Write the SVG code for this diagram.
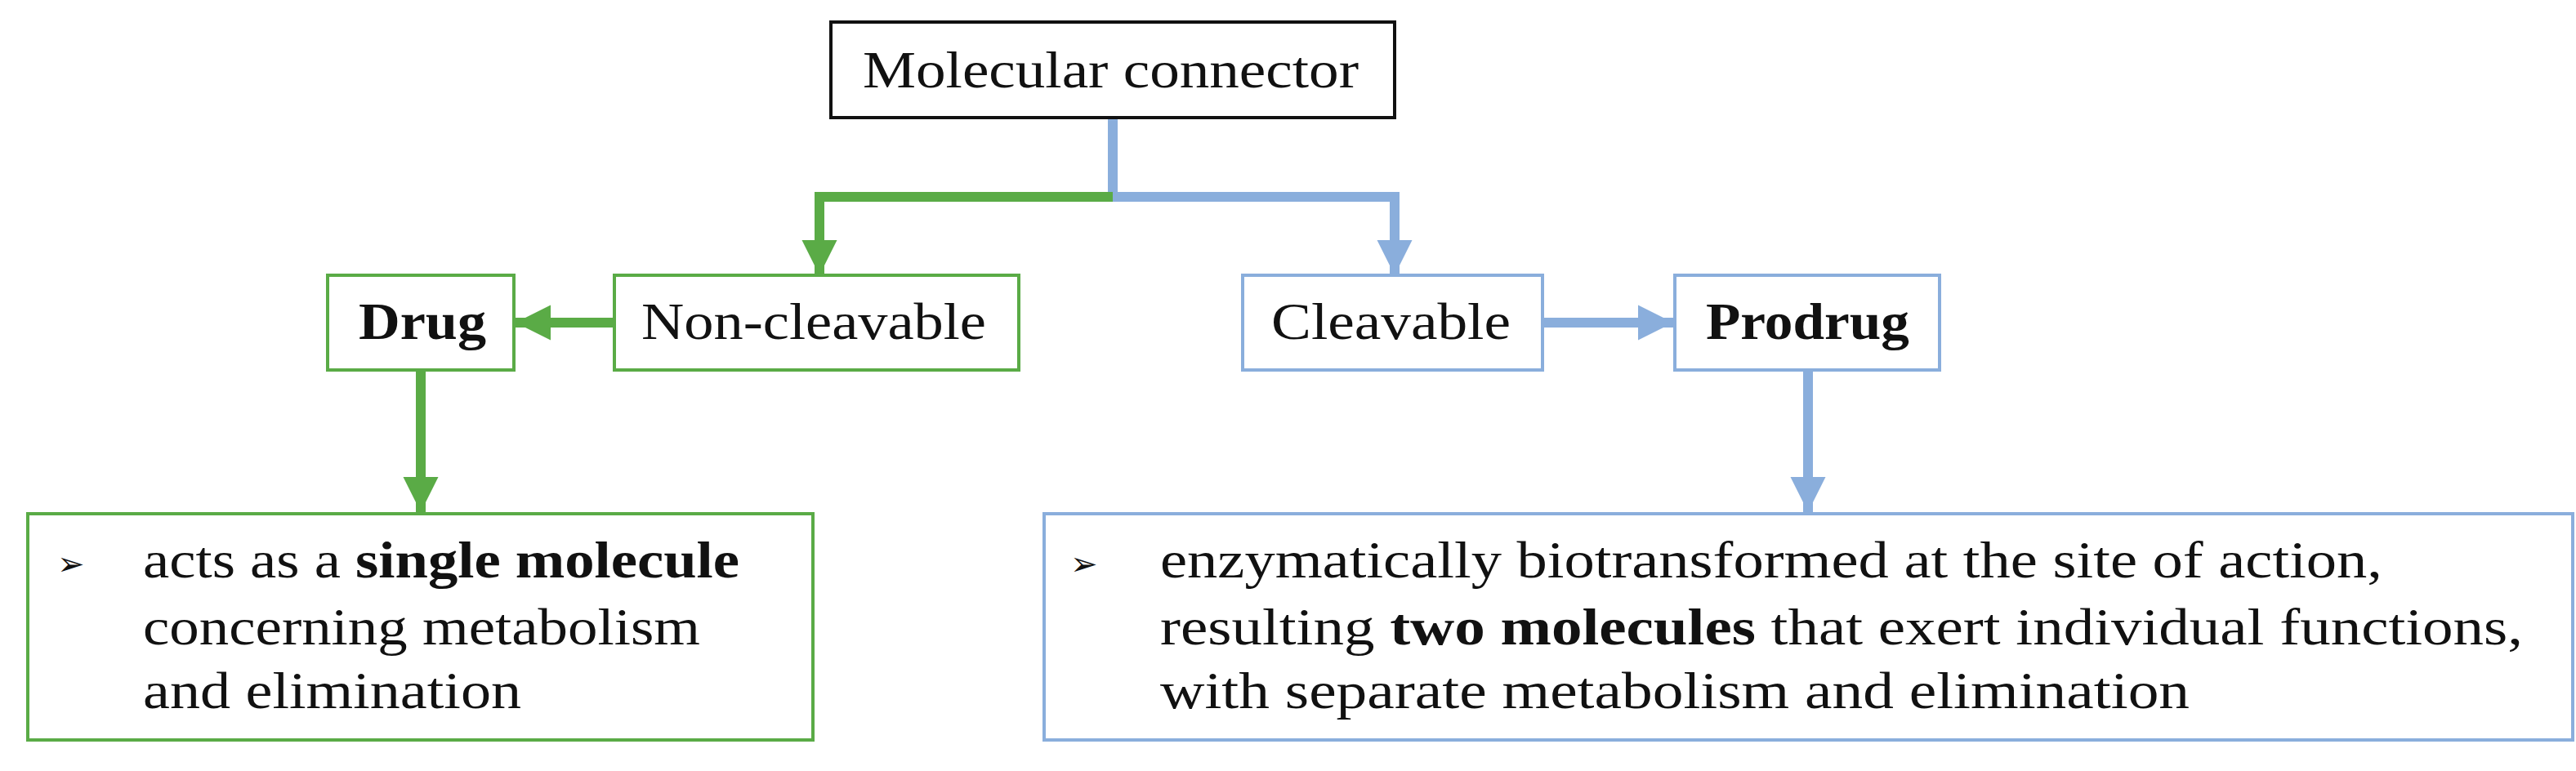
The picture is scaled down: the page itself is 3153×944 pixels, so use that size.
<svg xmlns="http://www.w3.org/2000/svg" width="3153" height="944" viewBox="0 0 3153 944">
<defs>
<style>
.t{font-family:"Liberation Serif",serif;font-size:64px;fill:#111}
.b{font-weight:bold}
.g{fill:#fff;stroke:#5aab46;stroke-width:4}
.bl{fill:#fff;stroke:#8aaedc;stroke-width:4}
.cg{fill:none;stroke:#5aab46;stroke-width:12}
.cb{fill:none;stroke:#8aaedc;stroke-width:12}
.bul{font-family:"DejaVu Sans",sans-serif;font-size:40px;fill:#111}
</style>
<marker id="ag" viewBox="0 0 10 10" refX="10" refY="5" markerWidth="3.6" markerHeight="3.6" markerUnits="strokeWidth" orient="auto"><path d="M0,0L10,5L0,10z" fill="#5aab46"/></marker>
<marker id="ab" viewBox="0 0 10 10" refX="10" refY="5" markerWidth="3.6" markerHeight="3.6" markerUnits="strokeWidth" orient="auto"><path d="M0,0L10,5L0,10z" fill="#8aaedc"/></marker>
</defs>
<rect width="3153" height="944" fill="#fff"/>
<g id="connectors">
<path class="cb" d="M1362,144V241H1707V337" marker-end="url(#ab)"/>
<path class="cg" d="M1362,241H1003V337" marker-end="url(#ag)"/>
<path class="cg" d="M752,395H631" marker-end="url(#ag)"/>
<path class="cg" d="M515,453V627" marker-end="url(#ag)"/>
<path class="cb" d="M1888,395H2048" marker-end="url(#ab)"/>
<path class="cb" d="M2213,453V627" marker-end="url(#ab)"/>
</g>
<g id="top"><rect x="1017" y="27" width="690" height="117" fill="#fff" stroke="#111" stroke-width="4"/><text class="t" x="1056" y="107" textLength="607" lengthAdjust="spacingAndGlyphs">Molecular connector</text></g>
<g id="drug"><rect class="g" x="401" y="337" width="228" height="116"/><text class="t b" x="439" y="415" textLength="156" lengthAdjust="spacingAndGlyphs">Drug</text></g>
<g id="noncleavable"><rect class="g" x="752" y="337" width="495" height="116"/><text class="t" x="785" y="415" textLength="422" lengthAdjust="spacingAndGlyphs">Non-cleavable</text></g>
<g id="cleavable"><rect class="bl" x="1521" y="337" width="367" height="116"/><text class="t" x="1556" y="415" textLength="293" lengthAdjust="spacingAndGlyphs">Cleavable</text></g>
<g id="prodrug"><rect class="bl" x="2050" y="337" width="324" height="116"/><text class="t b" x="2088" y="415" textLength="249" lengthAdjust="spacingAndGlyphs">Prodrug</text></g>
<g id="descleft"><rect class="g" x="34" y="629" width="961" height="277"/>
<text class="bul" x="70" y="704">➢</text>
<text class="t" x="175" y="707" textLength="730" lengthAdjust="spacingAndGlyphs">acts as a <tspan class="b">single molecule</tspan></text>
<text class="t" x="175" y="789" textLength="682" lengthAdjust="spacingAndGlyphs">concerning metabolism</text>
<text class="t" x="175" y="867" textLength="463" lengthAdjust="spacingAndGlyphs">and elimination</text></g>
<g id="descright"><rect class="bl" x="1278" y="629" width="1871" height="277"/>
<text class="bul" x="1310" y="704">➢</text>
<text class="t" x="1420" y="707" textLength="1496" lengthAdjust="spacingAndGlyphs">enzymatically biotransformed at the site of action,</text>
<text class="t" x="1420" y="789" textLength="1668" lengthAdjust="spacingAndGlyphs">resulting <tspan class="b">two molecules</tspan> that exert individual functions,</text>
<text class="t" x="1420" y="867" textLength="1260" lengthAdjust="spacingAndGlyphs">with separate metabolism and elimination</text></g>
</svg>
